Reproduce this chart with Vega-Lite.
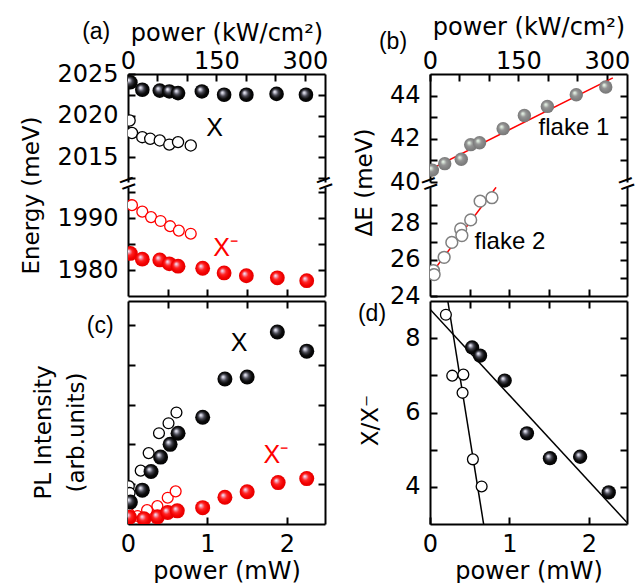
{
 "$schema": "https://vega.github.io/schema/vega-lite/v6.json",
 "padding": {"left": 20, "top": 15, "right": 5, "bottom": 0},
 "config": {
  "font": "Liberation Sans",
  "view": {"stroke": null},
  "axis": {"grid": false, "domainColor": "#000", "domainWidth": 2, "tickColor": "#000", "tickWidth": 2, "tickSize": -7, "labelFont": "DejaVu Sans", "titleFont": "DejaVu Sans", "labelFontSize": 24, "labelColor": "#000", "labelFlush": false, "labelOverlap": false, "labelPadding": 17, "titleFontSize": 24, "titleFontWeight": "normal", "titleColor": "#000"},
  "axisY": {"titleFontSize": 23},
  "axisTop": {"labelPadding": 8},
  "axisBottom": {"labelPadding": 15},
  "text": {"fontSize": 25, "color": "#000"}
 },
 "datasets": {
  "aXf": [{"x":0.03,"y":2024.0},{"x":0.18,"y":2023.1},{"x":0.40,"y":2023.0},{"x":0.52,"y":2022.9},{"x":0.63,"y":2022.7},{"x":0.93,"y":2022.9},{"x":1.21,"y":2022.5},{"x":1.49,"y":2022.5},{"x":1.87,"y":2022.6},{"x":2.24,"y":2022.5}],
  "aXo": [{"x":0.02,"y":2019.4},{"x":0.05,"y":2017.9},{"x":0.18,"y":2017.4},{"x":0.28,"y":2017.2},{"x":0.40,"y":2017.0},{"x":0.52,"y":2016.5},{"x":0.63,"y":2016.8},{"x":0.79,"y":2016.4}],
  "aMo": [{"x":0.05,"y":1992.5},{"x":0.18,"y":1991.25},{"x":0.29,"y":1990.2},{"x":0.41,"y":1989.45},{"x":0.53,"y":1988.45},{"x":0.64,"y":1987.6},{"x":0.79,"y":1987.0}],
  "aMf": [{"x":0.03,"y":1983.2},{"x":0.18,"y":1982.1},{"x":0.40,"y":1981.95},{"x":0.52,"y":1981.2},{"x":0.63,"y":1980.75},{"x":0.94,"y":1980.35},{"x":1.21,"y":1979.45},{"x":1.49,"y":1978.9},{"x":1.88,"y":1978.5},{"x":2.25,"y":1977.95}],
  "cXf": [{"x":0.03,"y":0.55},{"x":0.18,"y":0.85},{"x":0.29,"y":1.32},{"x":0.41,"y":1.68},{"x":0.53,"y":2.0},{"x":0.63,"y":2.28},{"x":0.94,"y":2.68},{"x":1.22,"y":3.64},{"x":1.50,"y":3.69},{"x":1.88,"y":4.82},{"x":2.25,"y":4.34}],
  "cXo": [{"x":0.01,"y":0.95},{"x":0.02,"y":0.78},{"x":0.16,"y":1.34},{"x":0.26,"y":1.78},{"x":0.39,"y":2.28},{"x":0.51,"y":2.53},{"x":0.61,"y":2.80}],
  "cMf": [{"x":0.02,"y":0.17},{"x":0.20,"y":0.13},{"x":0.37,"y":0.18},{"x":0.50,"y":0.29},{"x":0.62,"y":0.33},{"x":0.94,"y":0.41},{"x":1.22,"y":0.67},{"x":1.50,"y":0.81},{"x":1.89,"y":1.04},{"x":2.25,"y":1.14}],
  "cMo": [{"x":0.01,"y":0.26},{"x":0.12,"y":0.2},{"x":0.24,"y":0.35},{"x":0.37,"y":0.45},{"x":0.50,"y":0.66},{"x":0.60,"y":0.82}],
  "bF1": [{"x":4,"y":40.55},{"x":25,"y":40.85},{"x":53,"y":41.05},{"x":69,"y":41.73},{"x":84,"y":41.82},{"x":124,"y":42.47},{"x":160,"y":43.08},{"x":199,"y":43.5},{"x":248,"y":44.04},{"x":298,"y":44.4}],
  "bL1": [{"x":0,"y":40.58},{"x":310,"y":44.82}],
  "bF2": [{"x":6,"y":25.4},{"x":7,"y":25.18},{"x":24,"y":26.13},{"x":37,"y":26.95},{"x":52,"y":27.69},{"x":54,"y":27.33},{"x":69,"y":28.19},{"x":85,"y":29.22},{"x":105,"y":29.41}],
  "bL2": [{"x":5,"y":25.35},{"x":112,"y":29.98}],
  "dF": [{"x":0.53,"y":7.75},{"x":0.63,"y":7.53},{"x":0.94,"y":6.86},{"x":1.22,"y":5.44},{"x":1.51,"y":4.77},{"x":1.89,"y":4.81},{"x":2.25,"y":3.85}],
  "dO": [{"x":0.20,"y":8.63},{"x":0.28,"y":6.99},{"x":0.42,"y":7.02},{"x":0.41,"y":6.53},{"x":0.54,"y":4.74},{"x":0.65,"y":4.01}],
  "dL": [{"x":0,"y":8.78,"g":"filled"},{"x":2.48,"y":3.04,"g":"filled"},{"x":0.224,"y":9.0,"g":"open"},{"x":0.675,"y":3.0,"g":"open"}],
  "aTX": [{"x":1.09,"y":2018.55,"t":"X"}],
  "aTA": [{"x":-0.40,"y":2030.05,"t":"(a)"}],
  "aBrk": [{"x":0,"y":2011.7,"t":"="},{"x":2.48,"y":2011.7,"t":"="}],
  "aTM": [{"x":1.23,"y":1984.25,"t":"X⁻"}],
  "cTX": [{"x":1.40,"y":4.55,"t":"X"}],
  "cTM": [{"x":1.86,"y":1.74,"t":"X⁻"}],
  "cTC": [{"x":-0.35,"y":4.97,"t":"(c)"}],
  "bT1": [{"x":244,"y":42.5,"t":"flake 1"}],
  "bTB": [{"x":-62.7,"y":46.48,"t":"(b)"}],
  "bBrk": [{"x":0,"y":39.88,"t":"="},{"x":334,"y":39.88,"t":"="}],
  "bT2": [{"x":135.6,"y":26.96,"t":"flake 2"}],
  "dTD": [{"x":-0.73,"y":8.65,"t":"(d)"}]
 },
 "columns": 2,
 "spacing": {"row": 5, "column": 105},
 "bounds": "flush",
 "concat": [
  {
   "width": 197, "height": 108,
   "resolve": {"axis": {"x": "independent", "y": "independent"}},
   "layer": [
    {"data": {"name": "aXo"},
     "mark": {"type": "point", "shape": "circle", "filled": true, "fill": "white", "stroke": "black", "strokeWidth": 1.3, "size": 125, "opacity": 1, "clip": true},
     "encoding": {
      "x": {"field": "x", "type": "quantitative", "scale": {"domain": [0, 2.48], "nice": false, "zero": false}, "axis": {"orient": "top", "values": [0, 0.3712, 0.7424, 1.1136, 1.4848, 1.856, 2.2272], "labelExpr": "round(datum.value*134.7) % 150 == 0 ? '' + round(datum.value*134.7) : ''", "title": "power (kW/cm²)", "titlePadding": 4}},
      "y": {"field": "y", "type": "quantitative", "scale": {"domain": [2012, 2025], "nice": false, "zero": false}, "axis": {"orient": "left", "values": [2012.5, 2015, 2017.5, 2020, 2022.5, 2025], "format": "d", "labelExpr": "datum.value % 5 == 0 ? datum.label : ''", "title": "Energy (meV)", "titlePadding": 13, "titleY": 121}}
     }},
    {"data": {"name": "aXo"},
     "mark": {"type": "point", "opacity": 0},
     "encoding": {
      "x": {"field": "x", "type": "quantitative", "scale": {"domain": [0, 2.48], "nice": false, "zero": false}, "axis": null},
      "y": {"field": "y", "type": "quantitative", "scale": {"domain": [2012, 2025], "nice": false, "zero": false}, "axis": {"orient": "right", "values": [2012.5, 2015, 2017.5, 2020, 2022.5], "labels": false, "title": null}}
     }},
    {"data": {"name": "aXf"},
     "mark": {"type": "point", "shape": "circle", "filled": true, "size": 214, "opacity": 1, "strokeWidth": 0, "clip": true,
      "fill": {"gradient": "radial", "x1": 0.36, "y1": 0.34, "r1": 0, "x2": 0.5, "y2": 0.5, "r2": 0.55, "stops": [{"offset": 0, "color": "#ffffff"}, {"offset": 0.13, "color": "#c8c8d8"}, {"offset": 0.38, "color": "#45454f"}, {"offset": 0.65, "color": "#0a0a0a"}, {"offset": 1, "color": "#000000"}]}},
     "encoding": {
      "x": {"field": "x", "type": "quantitative", "scale": {"domain": [0, 2.48], "nice": false, "zero": false}, "axis": null},
      "y": {"field": "y", "type": "quantitative", "scale": {"domain": [2012, 2025], "nice": false, "zero": false}, "axis": null}
     }},
    {"data": {"name": "aTX"},
     "mark": {"type": "text", "fontSize": 25, "color": "#000"},
     "encoding": {
      "x": {"field": "x", "type": "quantitative", "scale": {"domain": [0, 2.48], "nice": false, "zero": false}, "axis": null},
      "y": {"field": "y", "type": "quantitative", "scale": {"domain": [2012, 2025], "nice": false, "zero": false}, "axis": null},
      "text": {"field": "t"}
     }},
    {"data": {"name": "aTA"},
     "mark": {"type": "text", "fontSize": 23, "color": "#000"},
     "encoding": {
      "x": {"field": "x", "type": "quantitative", "scale": {"domain": [0, 2.48], "nice": false, "zero": false}, "axis": null},
      "y": {"field": "y", "type": "quantitative", "scale": {"domain": [2012, 2025], "nice": false, "zero": false}, "axis": null},
      "text": {"field": "t"}
     }},
    {"data": {"name": "aBrk"},
     "mark": {"type": "text", "fontSize": 28, "angle": 340, "color": "#000"},
     "encoding": {
      "x": {"field": "x", "type": "quantitative", "scale": {"domain": [0, 2.48], "nice": false, "zero": false}, "axis": null},
      "y": {"field": "y", "type": "quantitative", "scale": {"domain": [2012, 2025], "nice": false, "zero": false}, "axis": null},
      "text": {"field": "t"}
     }}
   ]
  },
  {
   "width": 197, "height": 108,
   "resolve": {"axis": {"x": "independent", "y": "independent"}},
   "layer": [
    {"data": {"name": "bL1"},
     "mark": {"type": "line", "color": "#ff0000", "strokeWidth": 1.5, "clip": true},
     "encoding": {
      "x": {"field": "x", "type": "quantitative", "scale": {"domain": [0, 334], "nice": false, "zero": false}, "axis": {"orient": "top", "values": [0, 50, 100, 150, 200, 250, 300], "labelExpr": "datum.value % 150 == 0 ? datum.label : ''", "title": "power (kW/cm²)", "titlePadding": 10}},
      "y": {"field": "y", "type": "quantitative", "scale": {"domain": [40, 45], "nice": false, "zero": false}, "axis": {"orient": "left", "values": [40, 41, 42, 43, 44], "labelExpr": "datum.value % 2 == 0 ? datum.label : ''", "title": "ΔE (meV)", "titlePadding": 13, "titleY": 108}}
     }},
    {"data": {"name": "bL1"},
     "mark": {"type": "point", "opacity": 0},
     "encoding": {
      "x": {"field": "x", "type": "quantitative", "scale": {"domain": [0, 334], "nice": false, "zero": false}, "axis": null},
      "y": {"field": "y", "type": "quantitative", "scale": {"domain": [40, 45], "nice": false, "zero": false}, "axis": {"orient": "right", "values": [41, 42, 43, 44], "labels": false, "title": null}}
     }},
    {"data": {"name": "bF1"},
     "mark": {"type": "point", "shape": "circle", "filled": true, "size": 180, "opacity": 1, "strokeWidth": 0, "clip": true,
      "fill": {"gradient": "radial", "x1": 0.36, "y1": 0.34, "r1": 0, "x2": 0.5, "y2": 0.5, "r2": 0.55, "stops": [{"offset": 0, "color": "#f4fff4"}, {"offset": 0.14, "color": "#d4e0d4"}, {"offset": 0.4, "color": "#949494"}, {"offset": 0.7, "color": "#828282"}, {"offset": 1, "color": "#747474"}]}},
     "encoding": {
      "x": {"field": "x", "type": "quantitative", "scale": {"domain": [0, 334], "nice": false, "zero": false}, "axis": null},
      "y": {"field": "y", "type": "quantitative", "scale": {"domain": [40, 45], "nice": false, "zero": false}, "axis": null}
     }},
    {"data": {"name": "bT1"},
     "mark": {"type": "text", "fontSize": 24, "color": "#000"},
     "encoding": {
      "x": {"field": "x", "type": "quantitative", "scale": {"domain": [0, 334], "nice": false, "zero": false}, "axis": null},
      "y": {"field": "y", "type": "quantitative", "scale": {"domain": [40, 45], "nice": false, "zero": false}, "axis": null},
      "text": {"field": "t"}
     }},
    {"data": {"name": "bTB"},
     "mark": {"type": "text", "fontSize": 23, "color": "#000"},
     "encoding": {
      "x": {"field": "x", "type": "quantitative", "scale": {"domain": [0, 334], "nice": false, "zero": false}, "axis": null},
      "y": {"field": "y", "type": "quantitative", "scale": {"domain": [40, 45], "nice": false, "zero": false}, "axis": null},
      "text": {"field": "t"}
     }},
    {"data": {"name": "bBrk"},
     "mark": {"type": "text", "fontSize": 28, "angle": 340, "color": "#000"},
     "encoding": {
      "x": {"field": "x", "type": "quantitative", "scale": {"domain": [0, 334], "nice": false, "zero": false}, "axis": null},
      "y": {"field": "y", "type": "quantitative", "scale": {"domain": [40, 45], "nice": false, "zero": false}, "axis": null},
      "text": {"field": "t"}
     }}
   ]
  },
  {
   "width": 197, "height": 109,
   "resolve": {"axis": {"x": "independent", "y": "independent"}},
   "layer": [
    {"data": {"name": "aMo"},
     "mark": {"type": "point", "shape": "circle", "filled": true, "fill": "white", "stroke": "#ff0000", "strokeWidth": 1.3, "size": 118, "opacity": 1, "clip": true},
     "encoding": {
      "x": {"field": "x", "type": "quantitative", "scale": {"domain": [0, 2.48], "nice": false, "zero": false}, "axis": {"orient": "bottom", "values": [0.5, 1, 1.5, 2], "labels": false, "title": null}},
      "y": {"field": "y", "type": "quantitative", "scale": {"domain": [1975, 1996], "nice": false, "zero": false}, "axis": {"orient": "left", "values": [1980, 1985, 1990, 1995], "format": "d", "labelExpr": "datum.value % 10 == 0 ? datum.label : ''", "title": null}}
     }},
    {"data": {"name": "aMo"},
     "mark": {"type": "point", "opacity": 0},
     "encoding": {
      "x": {"field": "x", "type": "quantitative", "scale": {"domain": [0, 2.48], "nice": false, "zero": false}, "axis": null},
      "y": {"field": "y", "type": "quantitative", "scale": {"domain": [1975, 1996], "nice": false, "zero": false}, "axis": {"orient": "right", "values": [1980, 1985, 1990, 1995], "labels": false, "title": null}}
     }},
    {"data": {"name": "aMf"},
     "mark": {"type": "point", "shape": "circle", "filled": true, "size": 219, "opacity": 1, "strokeWidth": 0, "clip": true,
      "fill": {"gradient": "radial", "x1": 0.36, "y1": 0.34, "r1": 0, "x2": 0.5, "y2": 0.5, "r2": 0.55, "stops": [{"offset": 0, "color": "#ffffff"}, {"offset": 0.13, "color": "#f0b4cc"}, {"offset": 0.4, "color": "#ff2424"}, {"offset": 0.7, "color": "#f20000"}, {"offset": 1, "color": "#e00000"}]}},
     "encoding": {
      "x": {"field": "x", "type": "quantitative", "scale": {"domain": [0, 2.48], "nice": false, "zero": false}, "axis": null},
      "y": {"field": "y", "type": "quantitative", "scale": {"domain": [1975, 1996], "nice": false, "zero": false}, "axis": null}
     }},
    {"data": {"name": "aTM"},
     "mark": {"type": "text", "fontSize": 25, "color": "#ff0000"},
     "encoding": {
      "x": {"field": "x", "type": "quantitative", "scale": {"domain": [0, 2.48], "nice": false, "zero": false}, "axis": null},
      "y": {"field": "y", "type": "quantitative", "scale": {"domain": [1975, 1996], "nice": false, "zero": false}, "axis": null},
      "text": {"field": "t"}
     }}
   ]
  },
  {
   "width": 197, "height": 109,
   "resolve": {"axis": {"x": "independent", "y": "independent"}},
   "layer": [
    {"data": {"name": "bL2"},
     "mark": {"type": "line", "color": "#ff0000", "strokeWidth": 1.5, "clip": true},
     "encoding": {
      "x": {"field": "x", "type": "quantitative", "scale": {"domain": [0, 334], "nice": false, "zero": false}, "axis": {"orient": "bottom", "values": [67.35, 134.7, 202.05, 269.4], "labels": false, "title": null}},
      "y": {"field": "y", "type": "quantitative", "scale": {"domain": [24, 30], "nice": false, "zero": false}, "axis": {"orient": "left", "values": [24, 25, 26, 27, 28, 29], "labelExpr": "datum.value % 2 == 0 ? datum.label : ''", "title": null}}
     }},
    {"data": {"name": "bL2"},
     "mark": {"type": "point", "opacity": 0},
     "encoding": {
      "x": {"field": "x", "type": "quantitative", "scale": {"domain": [0, 334], "nice": false, "zero": false}, "axis": null},
      "y": {"field": "y", "type": "quantitative", "scale": {"domain": [24, 30], "nice": false, "zero": false}, "axis": {"orient": "right", "values": [25, 26, 27, 28, 29], "labels": false, "title": null}}
     }},
    {"data": {"name": "bF2"},
     "mark": {"type": "point", "shape": "circle", "filled": true, "fill": "white", "stroke": "#808080", "strokeWidth": 1.5, "size": 139, "opacity": 1, "clip": true},
     "encoding": {
      "x": {"field": "x", "type": "quantitative", "scale": {"domain": [0, 334], "nice": false, "zero": false}, "axis": null},
      "y": {"field": "y", "type": "quantitative", "scale": {"domain": [24, 30], "nice": false, "zero": false}, "axis": null}
     }},
    {"data": {"name": "bT2"},
     "mark": {"type": "text", "fontSize": 24, "color": "#000"},
     "encoding": {
      "x": {"field": "x", "type": "quantitative", "scale": {"domain": [0, 334], "nice": false, "zero": false}, "axis": null},
      "y": {"field": "y", "type": "quantitative", "scale": {"domain": [24, 30], "nice": false, "zero": false}, "axis": null},
      "text": {"field": "t"}
     }}
   ]
  },
  {
   "width": 197, "height": 223,
   "resolve": {"axis": {"x": "independent", "y": "independent"}},
   "layer": [
    {"data": {"name": "cXo"},
     "mark": {"type": "point", "shape": "circle", "filled": true, "fill": "white", "stroke": "black", "strokeWidth": 1.3, "size": 118, "opacity": 1, "clip": true},
     "encoding": {
      "x": {"field": "x", "type": "quantitative", "scale": {"domain": [0, 2.48], "nice": false, "zero": false}, "axis": {"orient": "bottom", "values": [0, 0.5, 1, 1.5, 2], "format": "d", "labelExpr": "datum.value % 1 == 0 ? datum.label : ''", "title": "power (mW)", "titlePadding": 3}},
      "y": {"field": "y", "type": "quantitative", "scale": {"domain": [0, 5.6], "nice": false, "zero": false}, "axis": {"orient": "left", "values": [1, 2, 3, 4, 5], "labels": false, "title": ["PL Intensity", "(arb.units)"], "titlePadding": 39, "titleY": 131, "titleLineHeight": 33}}
     }},
    {"data": {"name": "cXo"},
     "mark": {"type": "point", "opacity": 0},
     "encoding": {
      "x": {"field": "x", "type": "quantitative", "scale": {"domain": [0, 2.48], "nice": false, "zero": false}, "axis": {"orient": "top", "values": [0.5, 1, 1.5, 2], "labels": false, "title": null}},
      "y": {"field": "y", "type": "quantitative", "scale": {"domain": [0, 5.6], "nice": false, "zero": false}, "axis": {"orient": "right", "values": [1, 2, 3, 4, 5], "labels": false, "title": null}}
     }},
    {"data": {"name": "cMo"},
     "mark": {"type": "point", "shape": "circle", "filled": true, "fill": "white", "stroke": "#ff0000", "strokeWidth": 1.3, "size": 118, "opacity": 1, "clip": true},
     "encoding": {
      "x": {"field": "x", "type": "quantitative", "scale": {"domain": [0, 2.48], "nice": false, "zero": false}, "axis": null},
      "y": {"field": "y", "type": "quantitative", "scale": {"domain": [0, 5.6], "nice": false, "zero": false}, "axis": null}
     }},
    {"data": {"name": "cXf"},
     "mark": {"type": "point", "shape": "circle", "filled": true, "size": 225, "opacity": 1, "strokeWidth": 0, "clip": true,
      "fill": {"gradient": "radial", "x1": 0.36, "y1": 0.34, "r1": 0, "x2": 0.5, "y2": 0.5, "r2": 0.55, "stops": [{"offset": 0, "color": "#ffffff"}, {"offset": 0.13, "color": "#c8c8d8"}, {"offset": 0.38, "color": "#45454f"}, {"offset": 0.65, "color": "#0a0a0a"}, {"offset": 1, "color": "#000000"}]}},
     "encoding": {
      "x": {"field": "x", "type": "quantitative", "scale": {"domain": [0, 2.48], "nice": false, "zero": false}, "axis": null},
      "y": {"field": "y", "type": "quantitative", "scale": {"domain": [0, 5.6], "nice": false, "zero": false}, "axis": null}
     }},
    {"data": {"name": "cMf"},
     "mark": {"type": "point", "shape": "circle", "filled": true, "size": 225, "opacity": 1, "strokeWidth": 0, "clip": true,
      "fill": {"gradient": "radial", "x1": 0.36, "y1": 0.34, "r1": 0, "x2": 0.5, "y2": 0.5, "r2": 0.55, "stops": [{"offset": 0, "color": "#ffffff"}, {"offset": 0.13, "color": "#f0b4cc"}, {"offset": 0.4, "color": "#ff2424"}, {"offset": 0.7, "color": "#f20000"}, {"offset": 1, "color": "#e00000"}]}},
     "encoding": {
      "x": {"field": "x", "type": "quantitative", "scale": {"domain": [0, 2.48], "nice": false, "zero": false}, "axis": null},
      "y": {"field": "y", "type": "quantitative", "scale": {"domain": [0, 5.6], "nice": false, "zero": false}, "axis": null}
     }},
    {"data": {"name": "cTX"},
     "mark": {"type": "text", "fontSize": 25, "color": "#000"},
     "encoding": {
      "x": {"field": "x", "type": "quantitative", "scale": {"domain": [0, 2.48], "nice": false, "zero": false}, "axis": null},
      "y": {"field": "y", "type": "quantitative", "scale": {"domain": [0, 5.6], "nice": false, "zero": false}, "axis": null},
      "text": {"field": "t"}
     }},
    {"data": {"name": "cTM"},
     "mark": {"type": "text", "fontSize": 25, "color": "#ff0000"},
     "encoding": {
      "x": {"field": "x", "type": "quantitative", "scale": {"domain": [0, 2.48], "nice": false, "zero": false}, "axis": null},
      "y": {"field": "y", "type": "quantitative", "scale": {"domain": [0, 5.6], "nice": false, "zero": false}, "axis": null},
      "text": {"field": "t"}
     }},
    {"data": {"name": "cTC"},
     "mark": {"type": "text", "fontSize": 23, "color": "#000"},
     "encoding": {
      "x": {"field": "x", "type": "quantitative", "scale": {"domain": [0, 2.48], "nice": false, "zero": false}, "axis": null},
      "y": {"field": "y", "type": "quantitative", "scale": {"domain": [0, 5.6], "nice": false, "zero": false}, "axis": null},
      "text": {"field": "t"}
     }}
   ]
  },
  {
   "width": 197, "height": 223,
   "resolve": {"axis": {"x": "independent", "y": "independent"}},
   "layer": [
    {"data": {"name": "dL"},
     "mark": {"type": "line", "color": "#000", "strokeWidth": 1.5, "clip": true},
     "encoding": {
      "x": {"field": "x", "type": "quantitative", "scale": {"domain": [0, 2.48], "nice": false, "zero": false}, "axis": {"orient": "bottom", "values": [0, 0.5, 1, 1.5, 2], "format": "d", "labelExpr": "datum.value % 1 == 0 ? datum.label : ''", "title": "power (mW)", "titlePadding": 3}},
      "y": {"field": "y", "type": "quantitative", "scale": {"domain": [3, 9], "nice": false, "zero": false}, "axis": {"orient": "left", "values": [4, 5, 6, 7, 8], "labelExpr": "datum.value % 2 == 0 ? datum.label : ''", "title": "X/X⁻", "titlePadding": 22, "titleY": 119}},
      "detail": {"field": "g"}
     }},
    {"data": {"name": "dL"},
     "mark": {"type": "point", "opacity": 0},
     "encoding": {
      "x": {"field": "x", "type": "quantitative", "scale": {"domain": [0, 2.48], "nice": false, "zero": false}, "axis": {"orient": "top", "values": [0.5, 1, 1.5, 2], "labels": false, "title": null}},
      "y": {"field": "y", "type": "quantitative", "scale": {"domain": [3, 9], "nice": false, "zero": false}, "axis": {"orient": "right", "values": [4, 5, 6, 7, 8], "labels": false, "title": null}}
     }},
    {"data": {"name": "dO"},
     "mark": {"type": "point", "shape": "circle", "filled": true, "fill": "white", "stroke": "black", "strokeWidth": 1.3, "size": 118, "opacity": 1, "clip": true},
     "encoding": {
      "x": {"field": "x", "type": "quantitative", "scale": {"domain": [0, 2.48], "nice": false, "zero": false}, "axis": null},
      "y": {"field": "y", "type": "quantitative", "scale": {"domain": [3, 9], "nice": false, "zero": false}, "axis": null}
     }},
    {"data": {"name": "dF"},
     "mark": {"type": "point", "shape": "circle", "filled": true, "size": 205, "opacity": 1, "strokeWidth": 0, "clip": true,
      "fill": {"gradient": "radial", "x1": 0.36, "y1": 0.34, "r1": 0, "x2": 0.5, "y2": 0.5, "r2": 0.55, "stops": [{"offset": 0, "color": "#ffffff"}, {"offset": 0.13, "color": "#c8c8d8"}, {"offset": 0.38, "color": "#45454f"}, {"offset": 0.65, "color": "#0a0a0a"}, {"offset": 1, "color": "#000000"}]}},
     "encoding": {
      "x": {"field": "x", "type": "quantitative", "scale": {"domain": [0, 2.48], "nice": false, "zero": false}, "axis": null},
      "y": {"field": "y", "type": "quantitative", "scale": {"domain": [3, 9], "nice": false, "zero": false}, "axis": null}
     }},
    {"data": {"name": "dTD"},
     "mark": {"type": "text", "fontSize": 23, "color": "#000"},
     "encoding": {
      "x": {"field": "x", "type": "quantitative", "scale": {"domain": [0, 2.48], "nice": false, "zero": false}, "axis": null},
      "y": {"field": "y", "type": "quantitative", "scale": {"domain": [3, 9], "nice": false, "zero": false}, "axis": null},
      "text": {"field": "t"}
     }}
   ]
  }
 ]
}
